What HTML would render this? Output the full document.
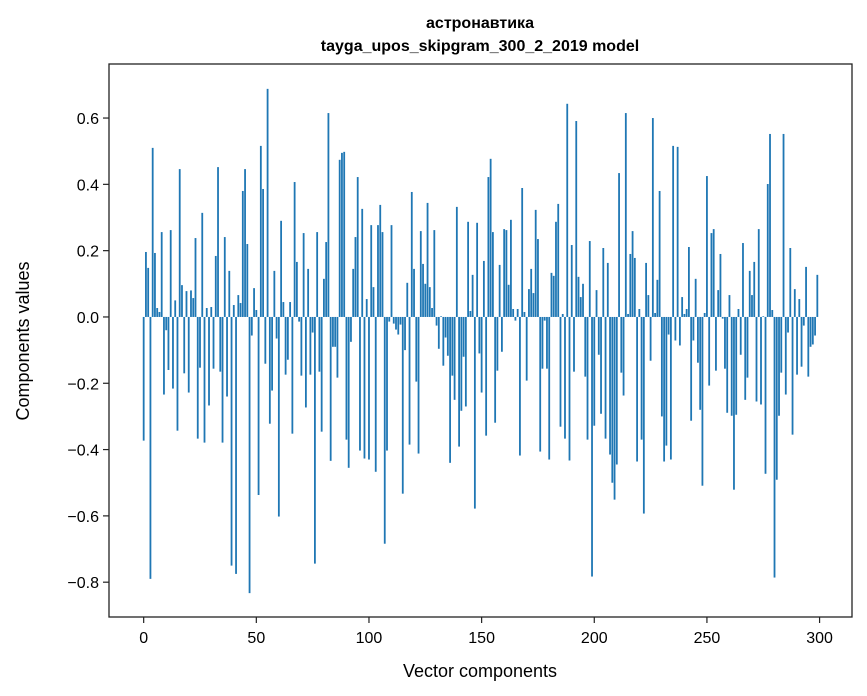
<!DOCTYPE html>
<html><head><meta charset="utf-8"><style>
html,body{margin:0;padding:0;background:#fff;}
svg{display:block;font-family:"Liberation Sans","DejaVu Sans",sans-serif;}
</style></head><body>
<svg id="chart" width="867" height="696" viewBox="0 0 867 696" xmlns="http://www.w3.org/2000/svg">
<rect width="867" height="696" fill="#fff"/>
<text x="480" y="28" text-anchor="middle" font-size="16" font-weight="bold">астронавтика</text>
<text x="480" y="51" text-anchor="middle" font-size="16" font-weight="bold">tayga_upos_skipgram_300_2_2019 model</text>
<g id="bars"></g>
<g id="axes"></g>
<rect x="109" y="64" width="743" height="553" fill="none" stroke="#222" stroke-width="1.3"/>
<text x="480" y="677" text-anchor="middle" font-size="18">Vector components</text>
<text transform="translate(29,341) rotate(-90)" text-anchor="middle" font-size="18">Components values</text>
</svg>
<script>
const values = [
-0.373,0.196,0.148,-0.79,0.51,0.193,0.027,0.015,0.256,-0.234,
-0.04,-0.16,0.262,-0.216,0.05,-0.343,0.446,0.096,-0.17,0.078,
-0.228,0.08,0.057,0.238,-0.367,-0.153,0.314,-0.379,0.027,-0.267,
0.03,-0.156,0.184,0.452,-0.165,-0.379,0.241,-0.24,0.139,-0.75,
0.036,-0.775,0.066,0.042,0.38,0.446,0.22,-0.833,-0.056,0.087,
0.021,-0.537,0.516,0.386,-0.141,0.688,-0.322,-0.222,0.139,-0.065,
-0.602,0.29,0.045,-0.174,-0.129,0.045,-0.352,0.407,0.166,-0.014,
-0.177,0.253,-0.273,0.145,-0.174,-0.047,-0.744,0.256,-0.165,-0.346,
0.115,0.226,0.615,-0.434,-0.09,-0.09,-0.183,0.474,0.495,0.498,
-0.37,-0.455,-0.075,0.145,0.241,0.422,-0.403,0.326,-0.427,0.054,
-0.43,0.277,0.09,-0.467,0.277,0.338,0.256,-0.684,-0.403,-0.014,
0.277,-0.02,-0.038,-0.053,-0.023,-0.533,-0.1,0.103,-0.385,0.377,
0.145,-0.195,-0.412,0.259,0.16,0.1,0.344,0.09,0.027,0.262,
-0.026,-0.096,0.002,-0.147,-0.062,-0.117,-0.44,-0.177,-0.25,0.332,
-0.391,-0.283,-0.12,-0.27,0.287,0.018,0.127,-0.578,0.284,-0.11,
-0.228,0.169,-0.358,0.422,0.477,0.256,-0.319,-0.162,0.157,-0.105,
0.265,0.262,0.097,0.293,0.024,-0.011,0.024,-0.418,0.389,0.015,
-0.192,0.084,0.145,0.072,0.323,0.235,-0.406,-0.156,-0.011,-0.156,
-0.43,0.133,0.124,0.287,0.341,-0.331,0.009,-0.367,0.643,-0.433,
0.217,-0.165,0.591,0.121,0.06,0.1,-0.18,-0.37,0.229,-0.783,
-0.328,0.081,-0.114,-0.292,0.208,-0.367,0.163,-0.415,-0.5,-0.551,
-0.445,0.434,-0.168,-0.237,0.615,0.009,0.19,0.259,0.178,-0.436,
0.024,-0.37,-0.593,0.163,0.066,-0.132,0.6,0.012,0.112,0.38,
-0.3,-0.436,-0.388,-0.053,-0.43,0.516,-0.071,0.513,-0.086,0.06,
0.009,0.024,0.211,-0.313,-0.071,0.115,-0.138,-0.28,-0.509,0.012,
0.425,-0.207,0.253,0.265,-0.162,0.081,0.19,-0.005,-0.156,-0.289,
0.066,-0.298,-0.521,-0.295,0.024,-0.114,0.223,-0.25,-0.183,0.139,
0.066,0.166,-0.255,0.265,-0.264,0.002,-0.473,0.401,0.552,0.021,
-0.786,-0.491,-0.298,-0.168,0.552,-0.234,-0.047,0.208,-0.355,0.084,
-0.174,0.054,-0.15,-0.026,0.151,-0.18,-0.09,-0.083,-0.056,0.127
];
const xTicks = [0,50,100,150,200,250,300];
const yTicks = [-0.8,-0.6,-0.4,-0.2,0.0,0.2,0.4,0.6];
const yTickLabels = ["\u22120.8","\u22120.6","\u22120.4","\u22120.2","0.0","0.2","0.4","0.6"];

const NS = "http://www.w3.org/2000/svg";
const PX = 109, PW = 743, PY = 64, PH = 553;
const xMin = -15.39, xMax = 314.39;
const yMin = -0.905, yMax = 0.763;
function xs(v){ return PX + (v - xMin) / (xMax - xMin) * PW; }
function ys(v){ return PY + (yMax - v) / (yMax - yMin) * PH; }

const barsG = document.getElementById('bars');
const bw = 0.8 * PW / (xMax - xMin);
values.forEach((v, i) => {
  const r = document.createElementNS(NS, 'rect');
  const y0 = ys(0), y1 = ys(v);
  r.setAttribute('x', xs(i) - bw / 2);
  r.setAttribute('y', Math.min(y0, y1));
  r.setAttribute('width', bw);
  r.setAttribute('height', Math.max(Math.abs(y1 - y0), 0.01));
  r.setAttribute('fill', '#1f77b4');
  
  
  barsG.appendChild(r);
});

const axesG = document.getElementById('axes');
xTicks.forEach(t => {
  const x = xs(t);
  const l = document.createElementNS(NS, 'line');
  l.setAttribute('x1', x); l.setAttribute('x2', x);
  l.setAttribute('y1', PY + PH); l.setAttribute('y2', PY + PH + 6);
  l.setAttribute('stroke', '#222'); l.setAttribute('stroke-width', '1.2');
  
  
  axesG.appendChild(l);
  const tx = document.createElementNS(NS, 'text');
  tx.setAttribute('x', x); tx.setAttribute('y', PY + PH + 26);
  tx.setAttribute('text-anchor', 'middle'); tx.setAttribute('font-size', '16');
  tx.textContent = String(t);
  
  
  axesG.appendChild(tx);
});
yTicks.forEach((t, k) => {
  const y = ys(t);
  const l = document.createElementNS(NS, 'line');
  l.setAttribute('x1', PX - 6); l.setAttribute('x2', PX);
  l.setAttribute('y1', y); l.setAttribute('y2', y);
  l.setAttribute('stroke', '#222'); l.setAttribute('stroke-width', '1.2');
  
  
  axesG.appendChild(l);
  const tx = document.createElementNS(NS, 'text');
  tx.setAttribute('x', PX - 10); tx.setAttribute('y', y + 6);
  tx.setAttribute('text-anchor', 'end'); tx.setAttribute('font-size', '16');
  tx.textContent = yTickLabels[k];
  
  
  axesG.appendChild(tx);
});
</script>
</body></html>
